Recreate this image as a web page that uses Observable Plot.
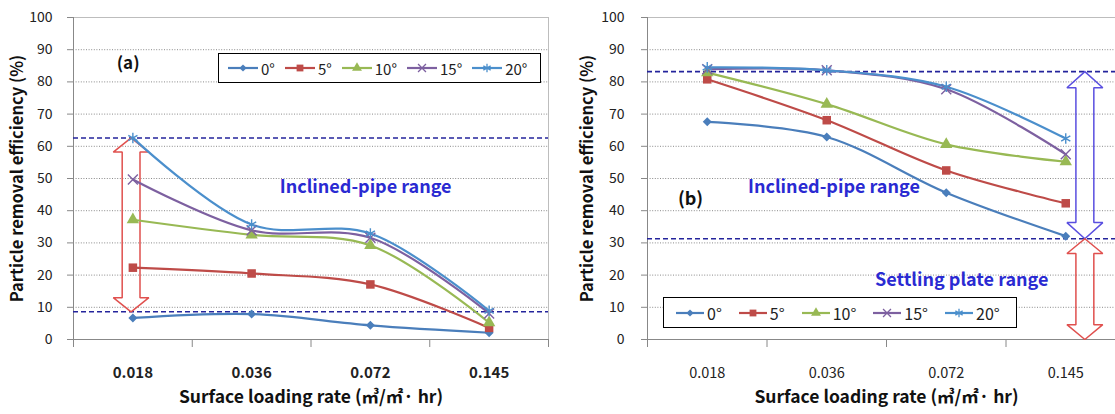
<!DOCTYPE html>
<html>
<head>
<meta charset="utf-8">
<script src="https://cdn.jsdelivr.net/npm/d3@7"></script>
<script src="https://cdn.jsdelivr.net/npm/@observablehq/plot@0.6"></script>
<style>
  html, body { margin: 0; padding: 0; background: #fff; }
  body { width: 1115px; height: 414px; position: relative; overflow: hidden;
         font-family: "Noto Sans CJK KR", "Noto Sans", sans-serif; }
  .panel { position: absolute; top: 0; height: 414px; overflow: hidden; }
  .panel > svg { max-width: none !important; }
  .legend { position: absolute; display: flex; align-items: center; box-sizing: border-box;
            border: 1.5px solid #000; background: #fff; color: #222; }
  .legend .item { display: flex; align-items: center; }
  .legend svg { display: block; overflow: visible; }
</style>
</head>
<body>
<div id="pa" class="panel" style="left:0;width:558px"></div>
<div id="pb" class="panel" style="left:560px;width:555px"></div>
<script>
// Surface loading rate categories (m³/m²·hr) and plate angles
const rates = ["0.018", "0.036", "0.072", "0.145"];
const angles = ["0°", "5°", "10°", "15°", "20°"];
const colors = ["#4a7ebb", "#be4b48", "#98b954", "#7d60a0", "#4b8fcc"];

// (a) particle removal efficiency (%) per angle
const a0  = [6.7, 7.9, 4.4, 2.1];
const a5  = [22.3, 20.5, 17.1, 3.6];
const a10 = [37.2, 32.5, 29.2, 5.2];
const a15 = [49.7, 33.9, 31.6, 8.1];
const a20 = [62.6, 35.7, 32.9, 8.9];
// (a) inclined-pipe range bounds (%)
const pipeA = [62.6, 8.6];

// (b) particle removal efficiency (%) per angle
const b0  = [67.6, 62.9, 45.6, 32.1];
const b5  = [80.8, 68.1, 52.5, 42.3];
const b10 = [82.9, 73.1, 60.6, 55.2];
const b15 = [83.9, 83.6, 77.7, 57.5];
const b20 = [84.5, 83.6, 78.5, 62.4];
// (b) inclined-pipe and settling-plate range bounds (%)
const pipeB = [83.2, 31.3];
const plateB = [31.3, 0];

const font = '"Noto Sans CJK KR", "Noto Sans", sans-serif';
const yTitle = "Particle removal efficiency (%)";
const xTitle = "Surface loading rate (㎥/㎡· hr)";

// Excel-style diamond (rotated square)
const diamond = {
  draw(ctx, size) {
    const s = Math.sqrt(size / 2);
    ctx.moveTo(0, -s); ctx.lineTo(s, 0); ctx.lineTo(0, s); ctx.lineTo(-s, 0); ctx.closePath();
  }
};
const markers = [
  {symbol: diamond, r: 3.6, filled: true},
  {symbol: d3.symbolSquare, r: 4.8, filled: true},
  {symbol: d3.symbolTriangle, r: 4.6, filled: true},
  {symbol: d3.symbolTimes, r: 4.6, filled: false},
  {symbol: d3.symbolAsterisk, r: 5, filled: false}
];

function rows(series) {
  return series.flatMap((vals, s) => vals.map((v, i) => ({xi: i, v, angle: angles[s]})));
}

// Outline of a double-headed vertical arrow between two values
function arrow(xc, lo, hi, head, hw, sw) {
  return [
    [xc, hi], [xc + hw, hi - head], [xc + sw, hi - head], [xc + sw, lo + head],
    [xc + hw, lo + head], [xc, lo], [xc - hw, lo + head], [xc - sw, lo + head],
    [xc - sw, hi - head], [xc - hw, hi - head], [xc, hi]
  ];
}

function panel({series, width, marginLeft, marginRight, tickBold, tickPad, yTitleDx,
                guides, arrows, notes}) {
  const data = rows(series);
  const marks = [
    Plot.ruleY(d3.range(10, 100, 10), {stroke: "#8a8a8a", strokeDasharray: "1,1.6", strokeWidth: 1}),
    Plot.frame({stroke: "#bdbdbd"}),
    Plot.ruleY([0], {stroke: "#888"}),
    Plot.ruleX([-0.5], {stroke: "#888"}),
    Plot.axisY({ticks: d3.range(0, 101, 10), tickSize: 6, tickPadding: tickPad, stroke: "#888",
                fill: "#222", fontSize: 14, label: null}),
    Plot.axisX({ticks: [-0.5, 0.5, 1.5, 2.5, 3.5], tickSize: 8, stroke: "#888",
                tickFormat: () => "", label: null}),
    Plot.text(rates, {x: (d, i) => i, frameAnchor: "bottom", dy: 38, fontSize: tickBold ? 15 : 14.5,
                      fill: "#222", fontWeight: tickBold ? "bold" : "normal"}),
    Plot.text([yTitle], {frameAnchor: "left", textAnchor: "middle", dx: yTitleDx, rotate: -90,
                         fontSize: 16.5, fontWeight: "bold", fill: "#111"}),
    Plot.text([xTitle], {frameAnchor: "bottom", textAnchor: "middle", dy: 63, fontSize: 17.5,
                         fontWeight: "bold", fill: "#111"}),
    Plot.ruleY(guides, {stroke: "#24249c", strokeDasharray: "5,3", strokeWidth: 1.6}),
    ...arrows.map(a => Plot.line(arrow(a.x, a.lo, a.hi, a.head, 0.15, 0.075),
                                 {x: d => d[0], y: d => d[1], stroke: a.color, strokeWidth: 1.5,
                                  strokeLinejoin: "miter", curve: "linear"})),
    Plot.line(data, {x: "xi", y: "v", z: "angle", stroke: "angle", strokeWidth: 2.2, curve: "catmull-rom"}),
    ...angles.map((ang, s) => {
      const m = markers[s];
      const sub = data.filter(d => d.angle === ang);
      return m.filled
        ? Plot.dot(sub, {x: "xi", y: "v", symbol: m.symbol, r: m.r, fill: colors[s], stroke: "none"})
        : Plot.dot(sub, {x: "xi", y: "v", symbol: m.symbol, r: m.r, stroke: colors[s], strokeWidth: 1.4, fill: "none"});
    }),
    ...notes.map(n => Plot.text([n.text], {x: () => n.x, y: () => n.y, fontSize: n.size,
                                           fontWeight: "bold", fill: n.color}))
  ];
  const svg = Plot.plot({
    width, height: 414, marginLeft, marginRight, marginTop: 17, marginBottom: 75,
    x: {domain: [-0.5, 3.5], axis: null},
    y: {domain: [0, 100], axis: null},
    color: {domain: angles, range: colors},
    style: {fontFamily: font, background: "transparent", overflow: "visible"},
    marks
  });
  svg.style.maxWidth = "none";
  return svg;
}

function legend(parent, {left, top, width, height, pad, swatch, gapText, gapItem, fontSize}) {
  const box = document.createElement("div");
  box.className = "legend";
  Object.assign(box.style, {left: left + "px", top: top + "px", width: width + "px",
                            height: height + "px", paddingLeft: pad + "px", fontSize: fontSize + "px"});
  angles.forEach((ang, s) => {
    const m = markers[s];
    const item = document.createElement("div");
    item.className = "item";
    item.style.marginRight = gapItem + "px";
    const svg = d3.create("svg").attr("width", swatch).attr("height", 14);
    svg.append("line").attr("x1", 0).attr("x2", swatch).attr("y1", 7).attr("y2", 7)
      .attr("stroke", colors[s]).attr("stroke-width", 2.2);
    const sym = d3.symbol(m.symbol, Math.PI * (m.r * 0.8) ** 2)();
    svg.append("path").attr("d", sym).attr("transform", `translate(${swatch / 2},7)`)
      .attr("fill", m.filled ? colors[s] : "none").attr("stroke", m.filled ? "none" : colors[s])
      .attr("stroke-width", 1.3);
    item.appendChild(svg.node());
    const t = document.createElement("span");
    t.textContent = ang;
    t.style.marginLeft = gapText + "px";
    item.appendChild(t);
    box.appendChild(item);
  });
  parent.appendChild(box);
}

const pa = document.getElementById("pa");
pa.appendChild(panel({
  series: [a0, a5, a10, a15, a20], width: 558, marginLeft: 73, marginRight: 10,
  tickBold: true, tickPad: 15, yTitleDx: -56,
  guides: pipeA,
  arrows: [{x: -0.015, lo: pipeA[1], hi: pipeA[0], head: 4.4, color: "#e0504e"}],
  notes: [
    {text: "(a)", x: -0.04, y: 85.6, size: 17, color: "#111"},
    {text: "Inclined-pipe range", x: 1.96, y: 47.2, size: 18, color: "#2a2ad2"}
  ]
}));
legend(pa, {left: 218, top: 53, width: 323, height: 30, pad: 9, swatch: 30, gapText: 3, gapItem: 10, fontSize: 15});

const pb = document.getElementById("pb");
pb.appendChild(panel({
  series: [b0, b5, b10, b15, b20], width: 572, marginLeft: 87, marginRight: 7,
  tickBold: false, tickPad: 17, yTitleDx: -60,
  guides: pipeB,
  arrows: [
    {x: 3.16, lo: pipeB[1], hi: pipeB[0], head: 5, color: "#5a4fe0"},
    {x: 3.16, lo: plateB[1], hi: plateB[0], head: 4.6, color: "#e0504e"}
  ],
  notes: [
    {text: "(b)", x: -0.14, y: 43.5, size: 18, color: "#111"},
    {text: "Inclined-pipe range", x: 1.06, y: 47.2, size: 18, color: "#2a2ad2"},
    {text: "Settling plate range", x: 2.13, y: 18.3, size: 18, color: "#2a2ad2"}
  ]
}));
legend(pb, {left: 103, top: 297, width: 354, height: 31, pad: 12, swatch: 28, gapText: 3, gapItem: 17, fontSize: 16});
</script>
</body>
</html>
